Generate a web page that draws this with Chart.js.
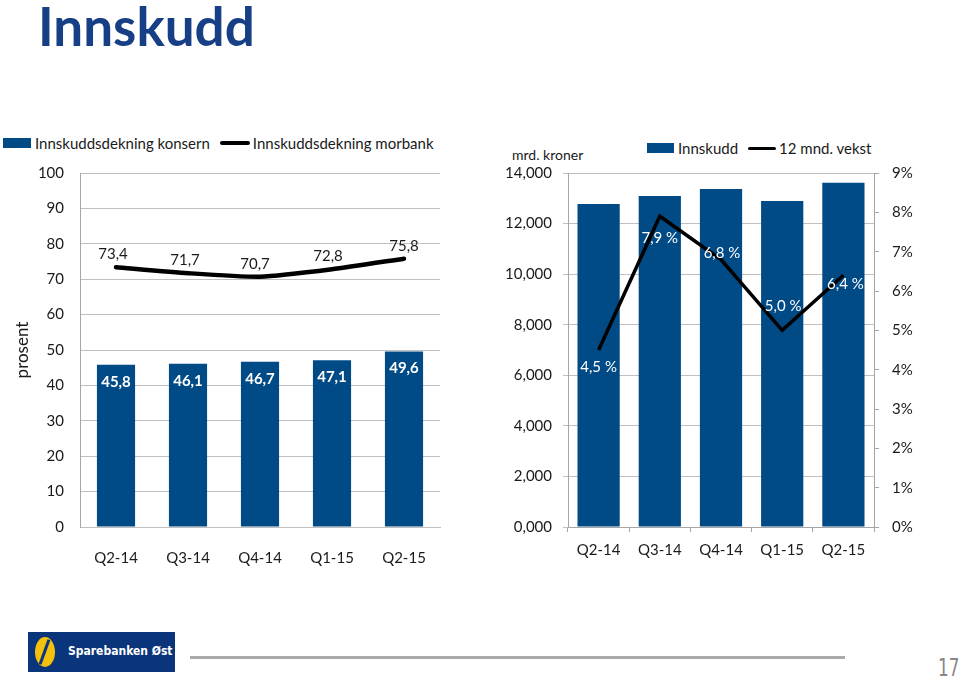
<!DOCTYPE html>
<html lang="no">
<head>
    <meta charset="UTF-8">
    <title>Innskudd</title>
    <style>
        html, body {
            margin: 0;
            padding: 0;
            width: 960px;
            height: 680px;
            background: white;
            overflow: hidden;
            font-family: 'Lato', sans-serif;
            color: #1a1a1a;
        }
        .abs { position: absolute; }
        h1 {
            position: absolute;
            left: 38px;
            top: -6px;
            margin: 0;
            font-size: 53px;
            font-weight: bold;
            color: #173f86;
        }
        .legend {
            position: absolute;
            font-size: 15px;
            display: flex;
            align-items: center;
            white-space: nowrap;
        }
        .box { display: inline-block; width: 27px; height: 10px; background: #004a86; margin-right: 4px; }
        .ln { display: inline-block; width: 30px; height: 4px; background: #000; border-radius: 2px; margin: 0 3px 0 10px; }
        #leftWrap { left: 0; top: 130px; width: 460px; height: 440px; }
        #rightWrap { left: 480px; top: 130px; width: 480px; height: 440px; }
        .logo {
            left: 28px; top: 632px; width: 147px; height: 40px;
            background: #0b357a;
        }
        .swoosh {
            position: absolute; left: 7px; top: 5px; width: 20px; height: 30px;
            border-radius: 50%; background: #f4c20d;
        }
        .swoosh::after {
            content: ''; position: absolute; left: 8px; top: 2px; width: 3px; height: 26px;
            background: #0b357a; transform: rotate(20deg);
        }
        .logo span {
            position: absolute; left: 40px; top: 12px; color: white; white-space: nowrap;
            font-size: 12px; font-weight: bold; font-family: 'DejaVu Sans Condensed', sans-serif;
        }
        .rule { left: 190px; top: 656px; width: 655px; height: 3px; background: #aaa; }
        .page {
            left: 938px; top: 654px; font-size: 24px; color: #888;
            font-family: 'DejaVu Sans Condensed', sans-serif;
            transform: scaleX(0.78); transform-origin: left top;
        }
    </style>
    <script src="https://cdn.jsdelivr.net/npm/chart.js@4.4.1/dist/chart.umd.min.js"></script>
</head>
<body>
    <h1>Innskudd</h1>

    <div class="legend" style="left:3px; top:134px;">
        <span class="box" style="width:28px"></span>Innskuddsdekning konsern<span class="ln"></span>Innskuddsdekning morbank
    </div>
    <div class="abs" style="left:512px; top:146px; font-size:14px;">mrd. kroner</div>
    <div class="legend" style="left:647px; top:139px;">
        <span class="box"></span>Innskudd<span class="ln" style="width:28px; height:3px"></span>12 mnd. vekst
    </div>

    <div id="leftWrap" class="abs"><canvas id="leftChart"></canvas></div>
    <div id="rightWrap" class="abs"><canvas id="rightChart"></canvas></div>

    <div class="abs logo"><div class="swoosh"></div><span>Sparebanken Øst</span></div>
    <div class="abs rule"></div>
    <div class="abs page">17</div>

    <script>
        const quarters = ['Q2-14', 'Q3-14', 'Q4-14', 'Q1-15', 'Q2-15'];

        // venstre graf: innskuddsdekning i prosent
        const dekningKonsern = [45.8, 46.1, 46.7, 47.1, 49.6];
        const dekningMorbank = [73.4, 71.7, 70.7, 72.8, 75.8];

        // høyre graf: innskudd (mrd. kroner) og 12 mnd. vekst (%)
        const innskudd = [12.77, 13.09, 13.37, 12.89, 13.61];
        const vekst = [4.5, 7.9, 6.8, 5.0, 6.4];

        const BLUE = '#004a86';
        const GRID = '#c0c0c0';
        const AXIS = '#a6a6a6';
        const tickFont = { family: 'Lato', size: 15 };

        const comma = (v, d) => v.toFixed(d).replace('.', ',');

        // tegner verdietiketter ved hvert punkt/stolpe
        const valueLabels = {
            id: 'valueLabels',
            afterDatasetsDraw(chart, args, opts) {
                const ctx = chart.ctx;
                (opts.sets || []).forEach(s => {
                    const meta = chart.getDatasetMeta(s.index);
                    const data = chart.data.datasets[s.index].data;
                    ctx.save();
                    ctx.font = s.font;
                    ctx.fillStyle = s.color;
                    ctx.textAlign = 'center';
                    ctx.textBaseline = 'middle';
                    meta.data.forEach((el, i) => {
                        const dx = s.dx ? s.dx[i] : 0;
                        const dy = Array.isArray(s.dy) ? s.dy[i] : s.dy;
                        ctx.fillText(comma(data[i], 1) + (s.suffix || ''), el.x + dx, el.y + dy);
                    });
                    ctx.restore();
                });
            }
        };

        new Chart(document.getElementById('leftChart'), {
            type: 'bar',
            plugins: [valueLabels],
            data: {
                labels: quarters,
                datasets: [{
                    type: 'line',
                    label: 'Innskuddsdekning morbank',
                    data: dekningMorbank,
                    borderColor: '#000',
                    borderWidth: 4.5,
                    pointRadius: 0,
                    tension: 0.2,
                    borderCapStyle: 'round',
                    order: 0
                }, {
                    label: 'Innskuddsdekning konsern',
                    data: dekningKonsern,
                    backgroundColor: BLUE,
                    barPercentage: 0.53,
                    categoryPercentage: 1,
                    order: 1
                }]
            },
            options: {
                responsive: true,
                maintainAspectRatio: false,
                animation: false,
                layout: { padding: { top: 43, right: 20, bottom: 0, left: 0 } },
                plugins: {
                    legend: { display: false },
                    tooltip: { enabled: false },
                    valueLabels: {
                        sets: [
                            { index: 1, font: 'bold 15px Lato', color: '#fff', dy: 17 },
                            { index: 0, font: '15px Lato', color: '#1a1a1a', dy: -13, dx: [-3, -3, -5, -4, 0] }
                        ]
                    }
                },
                scales: {
                    x: {
                        grid: { display: false },
                        border: { display: true, color: GRID },
                        ticks: { color: '#1a1a1a', font: tickFont, padding: 14 },
                        afterFit: s => { s.height = 43; }
                    },
                    y: {
                        min: 0,
                        max: 100,
                        ticks: { stepSize: 10, color: '#1a1a1a', font: tickFont, padding: 16 },
                        grid: { color: GRID, drawTicks: false },
                        border: { display: true, color: AXIS },
                        title: { display: true, text: 'prosent', color: '#1a1a1a', font: { family: 'Lato', size: 17 }, padding: { top: 12, bottom: 0 } },
                        afterFit: s => { s.width = 80; }
                    }
                }
            }
        });

        new Chart(document.getElementById('rightChart'), {
            type: 'bar',
            plugins: [valueLabels],
            data: {
                labels: quarters,
                datasets: [{
                    type: 'line',
                    label: '12 mnd. vekst',
                    data: vekst,
                    yAxisID: 'y1',
                    borderColor: '#000',
                    borderWidth: 3.5,
                    pointRadius: 0,
                    tension: 0,
                    order: 0
                }, {
                    label: 'Innskudd',
                    data: innskudd,
                    yAxisID: 'y',
                    backgroundColor: BLUE,
                    barPercentage: 0.69,
                    categoryPercentage: 1,
                    order: 1
                }]
            },
            options: {
                responsive: true,
                maintainAspectRatio: false,
                animation: false,
                layout: { padding: { top: 43, right: 0, bottom: 0, left: 0 } },
                plugins: {
                    legend: { display: false },
                    tooltip: { enabled: false },
                    valueLabels: {
                        sets: [
                            { index: 0, font: '15px Lato', color: '#fff', suffix: ' %', dy: [17, 22, -6, -24, 9], dx: [0, 0, 1, 1, 2] }
                        ]
                    }
                },
                scales: {
                    x: {
                        grid: { drawOnChartArea: false, drawTicks: true, tickLength: 5, color: AXIS, offset: true },
                        border: { display: true, color: AXIS },
                        ticks: { color: '#1a1a1a', font: tickFont, padding: 9 },
                        afterFit: s => { s.height = 43; }
                    },
                    y: {
                        min: 0,
                        max: 14,
                        ticks: { stepSize: 2, color: '#1a1a1a', font: tickFont, padding: 11, callback: v => comma(v, 3) },
                        grid: { color: GRID, tickLength: 5 },
                        border: { display: true, color: AXIS },
                        afterFit: s => { s.width = 88; }
                    },
                    y1: {
                        position: 'right',
                        min: 0,
                        max: 9,
                        ticks: { stepSize: 1, color: '#1a1a1a', font: tickFont, padding: 13, callback: v => v + '%' },
                        grid: { drawOnChartArea: false, color: AXIS, tickLength: 5 },
                        border: { display: true, color: AXIS },
                        afterFit: s => { s.width = 86; }
                    }
                }
            }
        });
    </script>
</body>
</html>
